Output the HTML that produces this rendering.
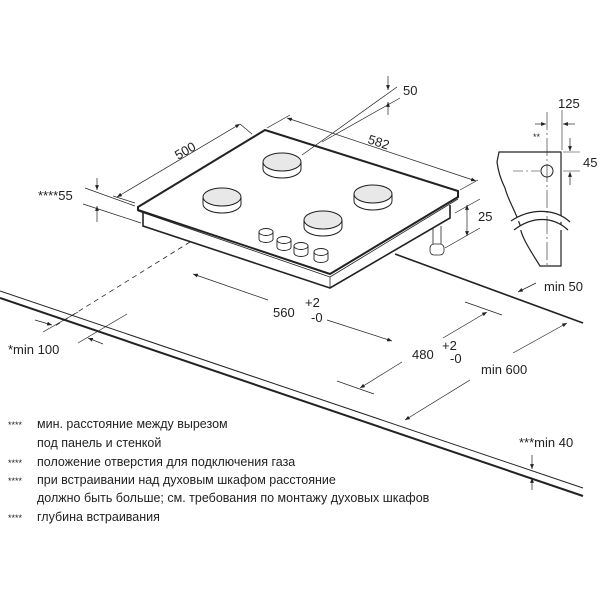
<!DOCTYPE html>
<html><head><meta charset="utf-8"><style>
html,body{margin:0;padding:0;background:#fff;}
svg{display:block;}
text{font-family:"Liberation Sans","DejaVu Sans",sans-serif;fill:#222;}
</style></head><body>
<svg width="600" height="600" viewBox="0 0 600 600" xmlns="http://www.w3.org/2000/svg">
<defs>
<marker id="a" viewBox="0 0 10 10" refX="10" refY="5" markerWidth="7" markerHeight="7" orient="auto-start-reverse"><path d="M0,1 L10,5 L0,9 z" fill="#222"/></marker>
</defs>
<g stroke="#222" fill="none" stroke-width="0.8">
<line x1="0" y1="291" x2="583" y2="488" stroke-width="1"/>
<line x1="0" y1="298" x2="583" y2="496" stroke-width="2"/>
<line x1="395" y1="254" x2="583" y2="323" stroke-width="1.6"/>
<line x1="190" y1="242" x2="55" y2="326" stroke-dasharray="5,4"/>
<path d="M143,213 L143,226 L330,288 L450,218 L450,205" stroke-width="1.6" fill="#fff"/>
<path d="M138,207 L265,130 L458,191 L458,197 L330,274 L138,210 z" stroke-width="2" fill="#fff"/>
<line x1="138" y1="211" x2="330" y2="277"/>
<line x1="330" y1="277" x2="330" y2="288"/>
<line x1="330" y1="277" x2="458" y2="199"/>
<path d="M433,228 L433,250 M441,226 L441,250" />
<rect x="430" y="244" width="14" height="11" rx="4" fill="#fff"/>
</g>
<g stroke="#222" stroke-width="1" fill="#e8e8e8">
<g><path d="M263,162 v7 a19,9 0 0 0 38,0 v-7" fill="#fff"/><ellipse cx="282" cy="162" rx="19" ry="9"/></g>
<g><path d="M203,197 v7 a19,9 0 0 0 38,0 v-7" fill="#fff"/><ellipse cx="222" cy="197" rx="19" ry="9"/></g>
<g><path d="M354,194 v7 a19,9 0 0 0 38,0 v-7" fill="#fff"/><ellipse cx="373" cy="194" rx="19" ry="9"/></g>
<g><path d="M304,220 v7 a19,9 0 0 0 38,0 v-7" fill="#fff"/><ellipse cx="323" cy="220" rx="19" ry="9"/></g>
</g>
<g stroke="#222" stroke-width="0.9" fill="#fff">
<g><path d="M259,232 v7 a7,3.5 0 0 0 14,0 v-7"/><ellipse cx="266" cy="232" rx="7" ry="3.5"/></g>
<g><path d="M277,240 v7 a7,3.5 0 0 0 14,0 v-7"/><ellipse cx="284" cy="240" rx="7" ry="3.5"/></g>
<g><path d="M294,246 v7 a7,3.5 0 0 0 14,0 v-7"/><ellipse cx="301" cy="246" rx="7" ry="3.5"/></g>
<g><path d="M314,252 v7 a7,3.5 0 0 0 14,0 v-7"/><ellipse cx="321" cy="252" rx="7" ry="3.5"/></g>
</g>
<g stroke="#222" stroke-width="0.7" fill="none">
<line x1="117" y1="197" x2="240" y2="124" marker-start="url(#a)" marker-end="url(#a)"/>
<line x1="240" y1="124" x2="252" y2="134"/>
<line x1="135" y1="203" x2="113" y2="196"/>
<line x1="287" y1="118" x2="476" y2="181" marker-start="url(#a)" marker-end="url(#a)"/>
<line x1="267" y1="128" x2="290" y2="115"/>
<line x1="460" y1="190" x2="478" y2="180"/>
<line x1="302" y1="155" x2="397" y2="87"/>
<line x1="322" y1="142" x2="400" y2="98"/>
<line x1="388" y1="76" x2="388" y2="90" marker-end="url(#a)"/>
<line x1="388" y1="115" x2="388" y2="102" marker-end="url(#a)"/>
<line x1="85" y1="188" x2="135" y2="206"/>
<line x1="83" y1="204" x2="141" y2="223"/>
<line x1="97" y1="178" x2="97" y2="190" marker-end="url(#a)"/>
<line x1="97" y1="222" x2="97" y2="206" marker-end="url(#a)"/>
<line x1="455" y1="213" x2="480" y2="199"/>
<line x1="445" y1="248" x2="480" y2="228"/>
<line x1="467" y1="205" x2="467" y2="236" marker-start="url(#a)" marker-end="url(#a)"/>
<line x1="268" y1="300" x2="193" y2="274" marker-end="url(#a)"/>
<line x1="327" y1="320" x2="392" y2="341" marker-end="url(#a)"/>
<line x1="465" y1="302" x2="502" y2="315"/>
<line x1="337" y1="381" x2="374" y2="394"/>
<line x1="443" y1="338" x2="487" y2="312" marker-end="url(#a)"/>
<line x1="402" y1="362" x2="360" y2="388" marker-end="url(#a)"/>
<line x1="513" y1="353" x2="567" y2="323" marker-end="url(#a)"/>
<line x1="470" y1="380" x2="405" y2="420" marker-end="url(#a)"/>
<line x1="536" y1="283" x2="518" y2="292" marker-end="url(#a)"/>
<line x1="43" y1="332" x2="78" y2="312"/>
<line x1="78" y1="343" x2="127" y2="314"/>
<line x1="35" y1="320" x2="52" y2="325" marker-end="url(#a)"/>
<line x1="103" y1="344" x2="88" y2="338" marker-end="url(#a)"/>
<line x1="532" y1="455" x2="532" y2="469" marker-end="url(#a)"/>
<line x1="532" y1="490" x2="532" y2="478" marker-end="url(#a)"/>
</g>
<g stroke="#222" fill="none">
<path d="M499,152 L561,152 L561,266 L540,266 C530,250 520,235 520,225 C515,210 508,200 505,188 C500,178 498,170 497,162 z" stroke-width="1.2" fill="#fff"/>
<path d="M511,221 C530,208 555,208 570,222 M514,230 C532,216 553,216 568,230" stroke-width="1.2" fill="#fff"/>
<line x1="547" y1="112" x2="547" y2="265" stroke-width="0.6" stroke-dasharray="18,3,2,3"/>
<line x1="513" y1="171" x2="540" y2="171" stroke-width="0.6" stroke-dasharray="10,3,2,3"/>
<circle cx="547" cy="171" r="6" stroke-width="1"/>
<line x1="562" y1="110" x2="562" y2="150" stroke-width="0.6"/>
<line x1="535" y1="124" x2="546" y2="124" stroke-width="0.7" marker-end="url(#a)"/>
<line x1="575" y1="124" x2="563" y2="124" stroke-width="0.7" marker-end="url(#a)"/>
<line x1="563" y1="152" x2="580" y2="152" stroke-width="0.6"/>
<line x1="563" y1="171" x2="580" y2="171" stroke-width="0.6"/>
<line x1="570" y1="138" x2="570" y2="151" stroke-width="0.7" marker-end="url(#a)"/>
<line x1="570" y1="185" x2="570" y2="172" stroke-width="0.7" marker-end="url(#a)"/>
</g>
<g font-size="13">
<text x="403" y="95">50</text>
<text x="178" y="160" transform="rotate(-30 178 160)">500</text>
<text x="367" y="143" transform="rotate(18 367 143)">582</text>
<text x="38" y="200">****55</text>
<text x="478" y="221">25</text>
<text x="558" y="108">125</text>
<text x="533" y="140" font-size="9">**</text>
<text x="583" y="167">45</text>
<text x="544" y="291">min 50</text>
<text x="273" y="317">560</text>
<text x="305" y="307">+2</text>
<text x="311" y="322">-0</text>
<text x="412" y="359">480</text>
<text x="442" y="350">+2</text>
<text x="450" y="363">-0</text>
<text x="481" y="374">min 600</text>
<text x="8" y="354">*min 100</text>
<text x="519" y="447">***min 40</text>
</g>
<g font-size="12.5">
<text x="8" y="428" font-size="9">****</text><text x="37" y="428">мин. расстояние между вырезом</text>
<text x="37" y="447">под панель и стенкой</text>
<text x="8" y="466" font-size="9">****</text><text x="37" y="466">положение отверстия для подключения газа</text>
<text x="8" y="484" font-size="9">****</text><text x="37" y="484">при встраивании над духовым шкафом расстояние</text>
<text x="37" y="502">должно быть больше; см. требования по монтажу духовых шкафов</text>
<text x="8" y="521" font-size="9">****</text><text x="37" y="521">глубина встраивания</text>
</g>
</svg>
</body></html>
